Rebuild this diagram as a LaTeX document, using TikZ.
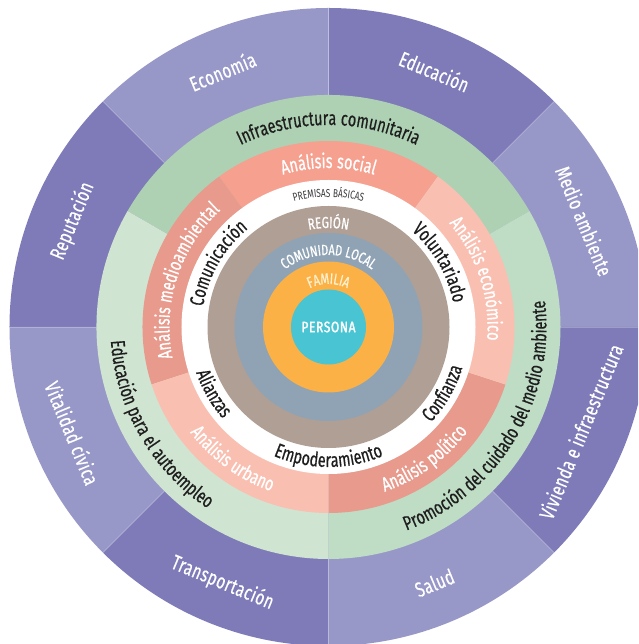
\documentclass[tikz,border=0pt]{standalone}
\usepackage{fontspec}
\setmainfont{Fira Sans}[FakeStretch=0.72,FakeBold=0.6,LetterSpace=2]
\newfontfamily\outfont{Fira Sans}[FakeStretch=0.72,FakeBold=0.4,LetterSpace=2]
\newfontfamily\thinfont{Fira Sans}[FakeStretch=0.72,LetterSpace=2]
\newfontfamily\boldfont{Fira Sans}[FakeStretch=0.8,LetterSpace=4,FakeBold=1.8]
\usetikzlibrary{decorations.text}
\definecolor{outL}{HTML}{9898C8}
\definecolor{outD}{HTML}{7E7BB8}
\definecolor{grT}{HTML}{AED1B3}
\definecolor{grL}{HTML}{D0E4D2}
\definecolor{grR}{HTML}{BFDCC5}
\definecolor{anS}{HTML}{F6A08F}
\definecolor{anL}{HTML}{F9C0B2}
\definecolor{anD}{HTML}{E89A8C}
\definecolor{brw}{HTML}{B09F95}
\definecolor{gbl}{HTML}{8FA3B5}
\definecolor{org}{HTML}{FBB146}
\definecolor{tea}{HTML}{48C4D3}
\definecolor{ink}{HTML}{1E1E1E}
\definecolor{gry}{HTML}{3A3A3A}
\definecolor{cream}{HTML}{FFF1CF}
\newcommand\mypie[4]{\fill[#4] (0,0) -- (#1:#3pt) arc[start angle=#1, end angle=#2, radius=#3pt] -- cycle;}
\newcommand\cwtext[5]{%
  \path[decorate,decoration={text along path,text align=center,text={|#4|#5}}]
    ({#2+#3}:#1pt) arc[start angle={#2+#3}, end angle={#2-#3}, radius=#1pt];}
\newcommand\ccwtext[5]{%
  \path[decorate,decoration={text along path,text align=center,text={|#4|#5}}]
    ({#2-#3}:#1pt) arc[start angle={#2-#3}, end angle={#2+#3}, radius=#1pt];}
\begin{document}
\begin{tikzpicture}[x=1pt,y=1pt,
  outlab/.style={text=white,inner sep=0pt,font=\outfont\fontsize{21}{24}\selectfont}]
\useasboundingbox (-328.5,-317) rectangle (309.5,327);
\clip (-328.5,-317) rectangle (309.5,327);
% outer ring
\foreach \a/\c in {0/outL,45/outD,90/outL,135/outD,180/outL,225/outD,270/outL,315/outD}{
  \mypie{\a}{\a+45}{319}{\c}
}
\foreach \a in {0,45,...,315}{
  \draw[white,opacity=0.25,line width=0.8pt] (\a:232pt) -- (\a:320pt);
}
% green ring
\mypie{30}{150}{232}{grT}
\mypie{150}{270}{232}{grL}
\mypie{270}{390}{232}{grR}
% analysis ring
\mypie{54}{126}{186}{anS}
\mypie{126}{198}{186}{anD}
\mypie{198}{270}{186}{anL}
\mypie{270}{342}{186}{anD}
\mypie{342}{414}{186}{anL}
% inner discs
\fill[white] (0,0) circle[radius=147pt];
\fill[brw] (0,0) circle[radius=121pt];
\fill[gbl] (0,0) circle[radius=94pt];
\fill[org] (0,0) circle[radius=65.5pt];
\fill[tea] (0,0) circle[radius=37.5pt];
% outer labels
\node[outlab,rotate=22.5] (economia) at (112.5:277pt) {Economía};
\node[outlab,rotate=-22.5] (educacion) at (67.5:277pt) {Educación};
\node[outlab,rotate=-67.5] (medio) at (22.5:277pt) {Medio ambiente};
\node[outlab,rotate=67.5] (vivienda) at (-22.5:273pt) {Vivienda e infraestructura};
\node[outlab,rotate=22.5] (salud) at (-67.5:277pt) {Salud};
\node[outlab,rotate=-22.5] (transporte) at (-112.5:277pt) {Transportación};
\node[outlab,rotate=-67.5] (vitalidad) at (-157.5:277pt) {Vitalidad cívica};
\node[outlab,rotate=67.5] (reputacion) at (157.5:277pt) {Reputación};
% green ring labels
\cwtext{202}{90}{60}{\fontsize{20}{22}\selectfont\color{ink}}{Infraestructura comunitaria}
\ccwtext{218}{210}{45}{\fontsize{20}{22}\selectfont\color{ink}}{Educación para el autoempleo}
\ccwtext{218}{329}{55}{\fontsize{20}{22}\selectfont\color{ink}}{Promoción del cuidado del medio ambiente}
% analysis ring labels
\cwtext{159}{90}{40}{\fontsize{20}{22}\selectfont\color{white}}{Análisis social}
\cwtext{159}{162}{45}{\fontsize{20}{22}\selectfont\color{white}}{Análisis medioambiental}
\cwtext{159}{18}{40}{\fontsize{20}{22}\selectfont\color{white}}{Análisis económico}
\ccwtext{174}{234}{40}{\fontsize{20}{22}\selectfont\color{white}}{Análisis urbano}
\ccwtext{174}{306}{40}{\fontsize{20}{22}\selectfont\color{white}}{Análisis político}
% premisas ring labels
\cwtext{130}{90}{40}{\thinfont\fontsize{11.5}{13}\selectfont\color{gry}}{PREMISAS BÁSICAS}
\cwtext{127}{150}{40}{\fontsize{20}{22}\selectfont\color{ink}}{Comunicación}
\cwtext{127}{30}{40}{\fontsize{20}{22}\selectfont\color{ink}}{Voluntariado}
\ccwtext{140}{210}{40}{\fontsize{20}{22}\selectfont\color{ink}}{Alianzas}
\ccwtext{140}{270}{40}{\fontsize{20}{22}\selectfont\color{ink}}{Empoderamiento}
\ccwtext{140}{330}{40}{\fontsize{20}{22}\selectfont\color{ink}}{Confianza}
% inner circles
\cwtext{99}{90}{40}{\fontsize{16}{18}\selectfont\color{white}}{REGIÓN}
\cwtext{72}{90}{60}{\fontsize{15}{17}\selectfont\color{white}}{COMUNIDAD LOCAL}
\cwtext{43}{90}{70}{\fontsize{15.5}{17}\selectfont\color{cream}}{FAMILIA}
\node[text=white,inner sep=0pt,font=\boldfont\fontsize{15}{17}\selectfont] (persona) at (0,0) {PERSONA};
\end{tikzpicture}
\end{document}
